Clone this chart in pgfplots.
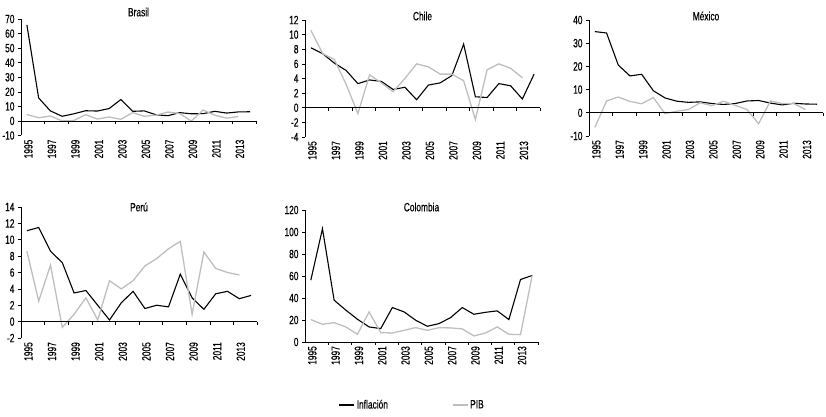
\documentclass[border=0pt]{standalone}
\usepackage{pgfplots}
\pgfplotsset{compat=1.18}
\usepackage{pgfplotstable}
\usepackage{fontspec}
\setmainfont{Liberation Sans}[FakeStretch=0.7, FakeBold=0.4]

\definecolor{pib}{RGB}{190,190,190}

% t = year - 1995, inflation (I) and GDP growth (P) per country
\pgfplotstableread{
t  brI  brP  clI clP  mxI  mxP  peI  peP  coI   coP
0  66.0 4.4  8.2 10.6 35.0 -6.3 11.1 8.6  56.2  20.4
1  15.8 2.2  7.4 7.4  34.4 5.1  11.5 2.5  103.0 16.1
2  6.9  3.4  6.1 6.6  20.6 6.8  8.6  6.9  38.0  17.6
3  3.2  0.0  5.1 3.2  15.9 4.9  7.2  -0.7 29.0  13.7
4  4.9  0.3  3.3 -0.8 16.6 3.9  3.5  0.9  20.7  7.0
5  7.0  4.3  3.8 4.5  9.5  6.6  3.8  2.9  13.7  27.4
6  6.8  1.3  3.6 3.4  6.4  -0.4 2.0  0.2  12.2  8.5
7  8.5  2.7  2.5 2.2  5.0  0.7  0.2  5.0  31.3  8.2
8  14.7 1.1  2.8 4.0  4.5  1.4  2.3  4.0  27.4  10.6
9  6.6  5.7  1.1 6.0  4.7  4.3  3.7  5.0  19.8  13.1
10 6.9  3.2  3.1 5.6  4.0  3.1  1.6  6.8  14.3  10.6
11 4.2  4.0  3.4 4.6  3.6  5.0  2.0  7.7  16.7  13.0
12 3.6  6.1  4.4 4.6  4.0  3.2  1.8  8.9  22.2  12.8
13 5.7  5.1  8.7 3.7  5.1  1.4  5.8  9.8  31.3  11.9
14 4.9  -0.1 1.5 -1.6 5.3  -4.7 2.9  0.9  25.2  5.5
15 5.0  7.5  1.4 5.2  4.2  5.1  1.5  8.5  27.0  8.2
16 6.6  3.9  3.3 6.0  3.4  4.0  3.4  6.5  28.3  13.7
17 5.4  1.9  3.0 5.4  4.1  4.0  3.7  6.0  20.4  7.0
18 6.2  3.0  1.2 4.1  3.8  1.4  2.8  5.7  56.8  6.7
19 6.3  nan  4.6 nan  3.7  nan  3.2  nan  60.5  60.5
}\datos

\pgfplotsset{
  panel/.style={
    scale only axis,
    clip=false,
    xmin=-0.5, xmax=19.5,
    axis y line*=left,
    axis x line*=bottom,
    x axis line style={draw=none},
    xtick={0,2,...,18},
    xticklabels={1995,1997,1999,2001,2003,2005,2007,2009,2011,2013},
    major x tick style={draw=none},
    xticklabel style={rotate=90, anchor=east, inner sep=1bp, yshift=-1.5bp},
    ytick style={black, line width=0.6bp},
    y axis line style={black, line width=0.6bp},
    tick align=outside,
    major tick length=3bp,
    ticklabel style={font=\fontsize{12}{14}\selectfont},
    /pgf/number format/assume math mode=true,
    title style={at={(0.5,1)}, anchor=center,
      font=\fontsize{12}{14}\selectfont},
    every axis plot/.append style={no marks, sharp plot},
  },
  infl/.style={black, line width=1.1bp},
  gdp/.style={pib, line width=1.3bp},
}

\newcommand{\zeroline}{%
  \draw[black, line width=0.6bp] (axis cs:-0.5,0) -- (axis cs:19.5,0);
  \pgfplotsinvokeforeach{1.5,3.5,...,19.5}{%
    \draw[black, line width=0.6bp] (axis cs:##1,0) -- ++(0pt,-3.5bp);}%
}

\begin{document}
\begin{tikzpicture}
\path[use as bounding box] (0,0) rectangle (826bp,417bp);

% Brasil
\begin{axis}[panel, at={(21bp,281.5bp)}, anchor=south west,
  width=235bp, height=116.5bp, ymin=-10, ymax=70, ytick={-10,0,...,70},
  title=Brasil, title style={yshift=1bp}]
\addplot[infl] table[x=t, y=brI] {\datos};
\addplot[gdp] table[x=t, y=brP] {\datos};
\zeroline
\end{axis}

% Chile
\begin{axis}[panel, at={(305bp,280bp)}, anchor=south west,
  width=235bp, height=117bp, ymin=-4, ymax=12, ytick={-4,-2,...,12},
  title=Chile, title style={yshift=-2bp}]
\addplot[infl] table[x=t, y=clI] {\datos};
\addplot[gdp] table[x=t, y=clP] {\datos};
\zeroline
\end{axis}

% Mexico
\begin{axis}[panel, at={(589bp,281bp)}, anchor=south west,
  width=234bp, height=116bp, ymin=-10, ymax=40, ytick={-10,0,...,40},
  title=México, title style={yshift=-2bp}]
\addplot[infl] table[x=t, y=mxI] {\datos};
\addplot[gdp] table[x=t, y=mxP] {\datos};
\zeroline
\end{axis}

% Peru
\begin{axis}[panel, at={(21bp,79bp)}, anchor=south west,
  width=236bp, height=131bp, ymin=-2, ymax=14, ytick={-2,0,...,14},
  title=Perú, title style={yshift=-6bp}]
\addplot[infl] table[x=t, y=peI] {\datos};
\addplot[gdp] table[x=t, y=peP] {\datos};
\zeroline
\end{axis}

% Colombia
\begin{axis}[panel, at={(305bp,75bp)}, anchor=south west,
  width=233bp, height=132bp, ymin=0, ymax=120, ytick={0,20,...,120},
  title=Colombia, title style={yshift=-3bp},
  legend style={at={(0.46,-0.477)}, anchor=center, draw=none,
    fill=none, font=\fontsize{12}{14}\selectfont},
  legend columns=2,
  legend image code/.code={\draw[#1] (0bp,0bp) -- (15bp,0bp);},
  /tikz/every even column/.append style={column sep=62bp}]
\addplot[infl] table[x=t, y=coI] {\datos};
\addlegendentry{Inflación}
\addplot[gdp] table[x=t, y=coP] {\datos};
\addlegendentry{PIB}
\zeroline
\end{axis}
\end{tikzpicture}
\end{document}
